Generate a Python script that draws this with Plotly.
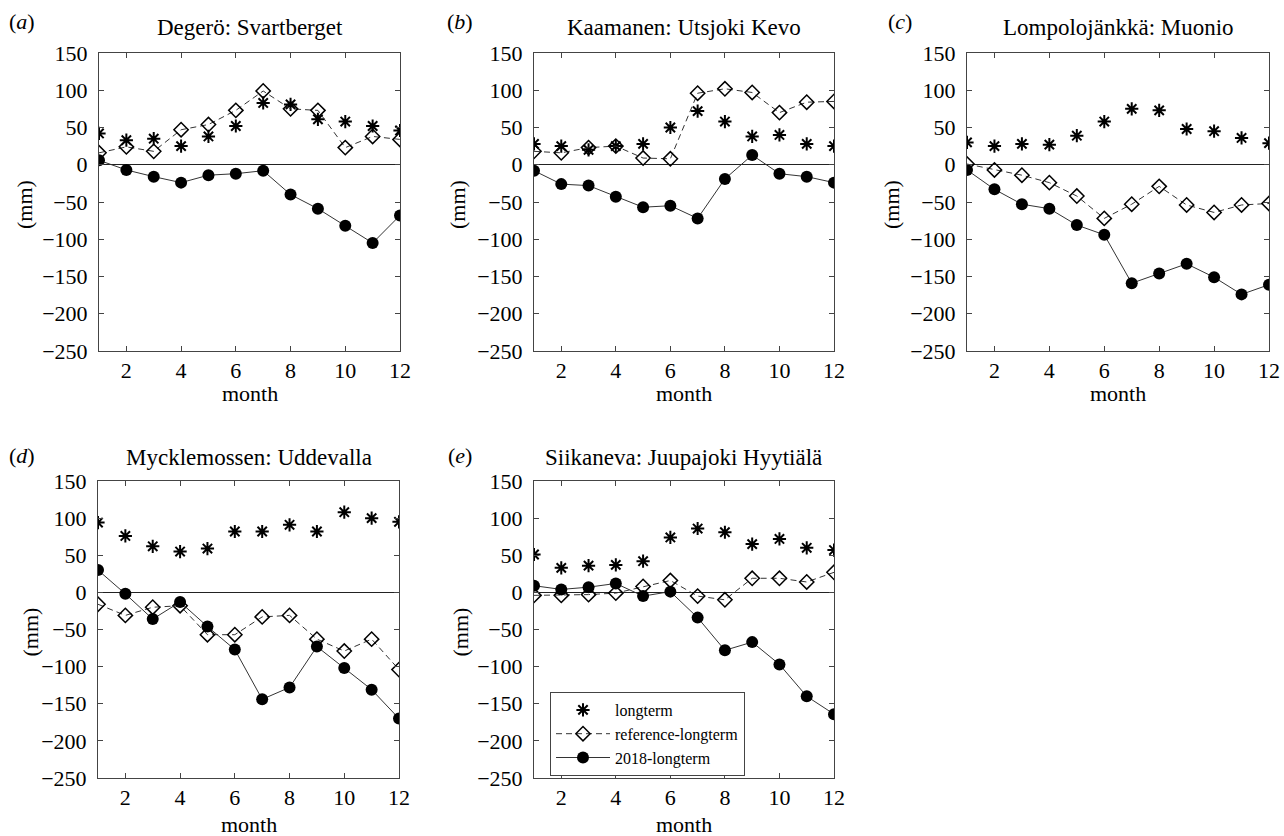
import plotly.graph_objects as go

months = list(range(1, 13))

titles = ["Degerö: Svartberget", "Kaamanen: Utsjoki Kevo", "Lompolojänkkä: Muonio",
          "Mycklemossen: Uddevalla", "Siikaneva: Juupajoki Hyytiälä"]
panel_letters = ["a", "b", "c", "d", "e"]
series_names = ["longterm", "reference-longterm", "2018-longterm"]
y_ticks = [-250, -200, -150, -100, -50, 0, 50, 100, 150]
x_ticks = [2, 4, 6, 8, 10, 12]

a_long = [42, 33, 35, 25, 38, 52, 83, 81, 61, 58, 52, 46]
a_ref = [16, 24, 18, 47, 54, 73, 99, 75, 73, 23, 38, 34]
a_2018 = [6, -7, -16, -24, -14, -12, -8, -40, -59, -82, -105, -68]

b_long = [28, 25, 20, 25, 28, 50, 72, 58, 38, 40, 28, 25]
b_ref = [18, 16, 23, 25, 9, 8, 96, 102, 97, 70, 84, 85]
b_2018 = [-8, -26, -28, -43, -57, -55, -72, -19, 13, -12, -16, -24]

c_long = [30, 25, 28, 27, 39, 58, 75, 73, 48, 45, 36, 29]
c_ref = [1, -7, -14, -24, -42, -72, -53, -29, -54, -64, -54, -52]
c_2018 = [-7, -33, -53, -59, -81, -94, -159, -146, -133, -151, -174, -161]

d_long = [94, 76, 62, 55, 59, 82, 82, 91, 82, 108, 100, 95]
d_ref = [-16, -31, -20, -18, -57, -57, -33, -31, -63, -79, -63, -104]
d_2018 = [30, -2, -36, -13, -46, -77, -144, -128, -73, -102, -131, -170]

e_long = [51, 33, 36, 37, 42, 74, 86, 81, 65, 72, 60, 57]
e_ref = [-4, -4, -3, -1, 8, 16, -5, -10, 19, 19, 14, 27]
e_2018 = [9, 4, 7, 12, -5, 1, -34, -78, -67, -97, -140, -164]

panels = [(a_long, a_ref, a_2018), (b_long, b_ref, b_2018), (c_long, c_ref, c_2018),
          (d_long, d_ref, d_2018), (e_long, e_ref, e_2018)]

W, H = 1284, 836
FONT = "Liberation Serif"

def px(x):
    return x / W

def py(y):
    return 1 - y / H

# axis boxes in target pixels: (left, right, top, bottom)
boxes = [(99, 400, 53, 351), (534, 834, 53, 351), (967, 1269, 53, 351),
         (98, 399, 481, 778), (534, 834, 481, 778)]
label_x = [22, 460, 900, 22, 460]
mm_x = [25, 458, 892, 30, 460]

fig = go.Figure()
layout = dict(width=W, height=H, margin=dict(l=0, r=0, t=0, b=0, autoexpand=False),
              paper_bgcolor="white", plot_bgcolor="white",
              font=dict(family=FONT, color="black", size=22))
annotations = []

for i, (lt, ref, y18) in enumerate(panels):
    n = "" if i == 0 else str(i + 1)
    xa, ya = "x" + n, "y" + n
    show = (i == 4)
    fig.add_trace(go.Scatter(x=months, y=lt, xaxis=xa, yaxis=ya, mode="markers",
                             name=series_names[0], legendgroup="lt", showlegend=show,
                             marker=dict(symbol="asterisk-open", size=11, color="black",
                                         line=dict(color="black", width=2))))
    fig.add_trace(go.Scatter(x=months, y=ref, xaxis=xa, yaxis=ya, mode="lines+markers",
                             name=series_names[1], legendgroup="ref", showlegend=show,
                             line=dict(color="#333333", width=1, dash="6px,4px"),
                             marker=dict(symbol="diamond-open", size=11, color="black",
                                         line=dict(color="black", width=1.5))))
    fig.add_trace(go.Scatter(x=months, y=y18, xaxis=xa, yaxis=ya, mode="lines+markers",
                             name=series_names[2], legendgroup="y18", showlegend=show,
                             line=dict(color="#333333", width=1),
                             marker=dict(symbol="circle", size=12, color="black",
                                         line=dict(width=0))))
    l, r, t, b = boxes[i]
    layout["xaxis" + n] = dict(domain=[px(l), px(r)], anchor=ya, range=[1, 12],
                               tickvals=x_ticks, ticks="inside", ticklen=5,
                               tickcolor="#444", showline=True, linecolor="#444",
                               linewidth=1, mirror="ticks", showgrid=False,
                               zeroline=False, tickfont=dict(size=22, family=FONT),
                               ticklabelstandoff=0, automargin=False,
                               ticklabeloverflow="allow")
    layout["yaxis" + n] = dict(domain=[py(b), py(t)], anchor=xa, range=[-250, 150],
                               tickvals=y_ticks, ticks="inside", ticklen=5,
                               tickcolor="#444", showline=True, linecolor="#444",
                               linewidth=1, mirror="ticks", showgrid=False,
                               zeroline=True, zerolinecolor="#222", zerolinewidth=1,
                               tickfont=dict(size=22, family=FONT),
                               ticklabelstandoff=6, automargin=False,
                               ticklabeloverflow="allow")
    cx = (l + r) / 2
    title_y = 27 if i < 3 else 457
    annotations.append(dict(text=titles[i], x=px(cx), y=py(title_y), xref="paper",
                            yref="paper", showarrow=False, xanchor="center",
                            yanchor="middle", font=dict(size=23, family=FONT)))
    annotations.append(dict(text="(<i>%s</i>)" % panel_letters[i], x=px(label_x[i]),
                            y=py(22 if i < 3 else 456), xref="paper", yref="paper",
                            showarrow=False, xanchor="center", yanchor="middle",
                            font=dict(size=22, family=FONT)))
    annotations.append(dict(text="(mm)", x=px(mm_x[i]), y=py((t + b) / 2 + 3),
                            xref="paper", yref="paper", showarrow=False, textangle=-90,
                            xanchor="center", yanchor="middle",
                            font=dict(size=22, family=FONT)))
    annotations.append(dict(text="month", x=px(cx), y=py(393 if i < 3 else 824),
                            xref="paper", yref="paper", showarrow=False,
                            xanchor="center", yanchor="middle",
                            font=dict(size=22, family=FONT)))

layout["annotations"] = annotations
layout["showlegend"] = True
layout["legend"] = dict(x=px(550), y=py(734), xanchor="left", yanchor="middle",
                        bgcolor="white", bordercolor="#444", borderwidth=1,
                        font=dict(size=16, family=FONT), itemwidth=54,
                        tracegroupgap=0, traceorder="normal")
fig.update_layout(**layout)
fig.write_html("out.html", config={"displayModeBar": False},
               post_script="document.body.style.margin='0';document.body.style.overflow='hidden';")
